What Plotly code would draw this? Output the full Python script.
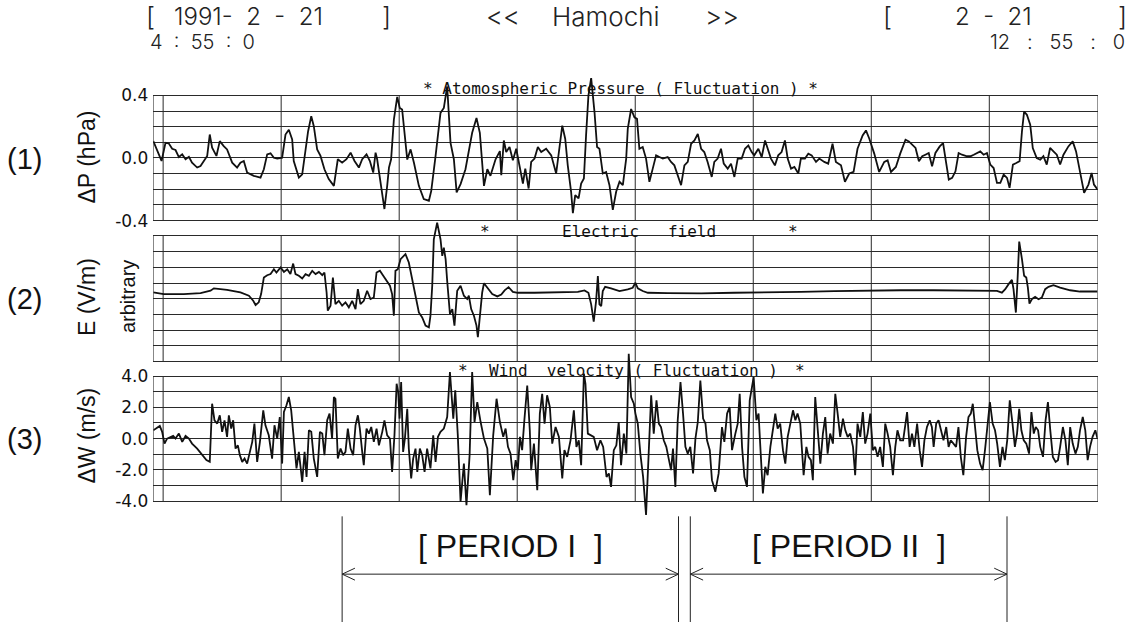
import plotly.graph_objects as go

# ------------------------------------------------------------------
# DATA  (time in minutes after 4:55:00, 1991-02-21, Hamochi)
# ------------------------------------------------------------------
# (1) Atmospheric pressure fluctuation dP (hPa)
P_t = [0, 4.2, 6.2, 7.9, 9.6, 11.3, 13.0, 14.7, 16.4, 18.1,
       19.7, 22.3, 24.0, 25.7, 27.4, 28.7, 29.9, 32.1, 33.8, 35.8,
       37.5, 40.1, 42.6, 44.3, 46.0, 47.7, 51.1, 54.5, 56.2, 57.9,
       59.6, 61.3, 63.0, 65.5, 67.2, 68.9, 70.6, 71.4, 74.0, 75.7,
       77.4, 78.7, 80.3, 81.6, 83.3, 85.0, 87.0, 89.2, 91.8, 93.8,
       96.0, 98.2, 100.3, 102.3, 104.5, 106.2, 108.4, 110.1, 111.8, 113.0,
       113.8, 115.5, 117.5, 118.9, 119.8, 120.9, 122.3, 124.0, 125.3, 126.5,
       127.4, 129.1, 130.8, 132.5, 135.0, 137.5, 140.1, 141.3, 143.5, 146.0,
       147.7, 149.4, 151.1, 152.8, 154.2, 156.2, 158.7, 160.4, 162.1, 164.3,
       166.0, 168.1, 169.8, 171.4, 174.0, 176.2,
       176.9, 178.2, 179.4, 181.1, 182.8, 184.5, 186.2, 187.9, 189.1, 190.8,
       192.1, 193.8, 195.5, 197.2, 199.7, 202.3, 204.8, 206.5, 207.9, 209.4,
       210.7, 212.4, 213.3, 214.5, 216.2, 217.5, 218.9, 220.0, 221.2, 222.6,
       224.3, 225.6, 226.8, 228.5, 230.2, 231.9, 233.6, 235.3, 237.0, 238.7,
       240.4, 241.2, 242.9, 244.6, 245.9, 247.1, 248.8, 250.5, 252.2, 253.9,
       255.6, 257.3, 259.0, 261.5, 263.2, 264.9, 266.6, 268.3, 270.0, 271.7,
       273.4, 275.1, 276.8, 278.5, 280.1, 281.8, 283.9, 285.2, 286.9, 288.6,
       290.0, 292.0, 293.7, 295.4, 297.1, 299.1, 300.8, 302.5, 304.2, 305.5,
       307.6, 309.3, 311.0, 312.3, 314.0, 316.0, 317.7, 319.4, 321.1, 322.5,
       324.2, 325.9, 327.9, 329.2, 331.3, 333.0, 334.7, 336.9, 338.6, 341.1,
       343.1, 345.3, 347.0, 349.6, 351.6, 353.8, 356.0, 358.0, 360.6, 362.3,
       364.0, 366.5, 369.0, 371.6, 373.3, 375.0, 377.5, 379.7,
       382.4, 384.1, 385.8, 387.5, 389.2, 390.9, 392.5, 394.2, 395.9, 397.6,
       399.8, 401.5, 403.2, 404.4, 406.1, 407.8, 409.4, 411.1, 413.7, 415.4,
       417.1, 418.7, 420.4, 422.1, 423.8, 425.5, 427.2, 428.9, 430.6, 432.3,
       434.0, 435.3, 437.0, 438.7, 440.4, 441.6, 442.7, 444.1, 445.8, 447.1,
       449.1, 450.9, 452.5, 454.2, 455.9, 457.6, 459.3, 461.0, 462.7, 465.2,
       467.4, 469.1, 471.1, 473.2, 475.4, 477.0, 478.2, 480.0]
P_v = [0.108, -0.019, 0.097, 0.093, 0.059, 0.051, 0.006, 0.023, -0.008, 0.008,
       -0.03, -0.061, -0.051, -0.019, 0.013, 0.15, 0.066, 0.013, 0.108, 0.076,
       0.055, -0.03, -0.061, -0.03, -0.019, -0.093, -0.114, -0.125, -0.072, 0.023,
       0.03, 0.002, -0.004, 0.002, 0.15, 0.18, 0.118, -0.019, -0.125, -0.104,
       0.034, 0.171, 0.267, 0.203, 0.055, 0.013, -0.072, -0.135, -0.178, -0.008,
       -0.03, -0.008, 0.034, -0.019, -0.061, -0.008, 0.023, -0.019, -0.093, 0.034,
       -0.008, -0.157, -0.326, -0.178, -0.061, -0.008, 0.245, 0.39, 0.32, 0.31,
       0.2, -0.01, 0.055, -0.03, -0.178, -0.262, -0.273, -0.21, 0.013, 0.288,
       0.32, 0.457, 0.097, -0.008, -0.22, -0.167, -0.072, 0.034, 0.161, 0.256,
       0.161, -0.178, -0.072, -0.114, -0.008, 0.044,
       -0.11, 0.112, 0.038, 0.07, -0.015, 0.059, -0.047, -0.163, -0.068, -0.195,
       -0.025, -0.004, 0.07, 0.038, 0.059, 0.017, -0.099, 0.08, 0.207, 0.123,
       -0.047, -0.216, -0.353, -0.237, -0.258, -0.163, -0.131, 0.144, 0.398, 0.51,
       0.292, 0.07, 0.059, -0.099, -0.089, -0.174, -0.332, -0.216, -0.152, -0.174,
       -0.004, 0.186, 0.313, 0.26, 0.25, 0.059, 0.07, -0.004, -0.152, -0.068,
       0.017, 0.006, -0.004, 0.006, -0.025, -0.047, -0.11, -0.174, -0.047, -0.025,
       0.091, 0.112, 0.154, 0.059, 0.038, -0.025, -0.121, -0.025, -0.004, 0.059,
       -0.036, -0.068, -0.036, -0.121, -0.004, -0.004, 0.059, 0.08, 0.038, 0.017,
       0.059, 0.006, 0.112, 0.059, -0.004, -0.047, 0.017, 0.038, 0.112, -0.004,
       -0.068, -0.057, -0.099, -0.004, -0.004, 0.028, 0.017, -0.025, -0.004, -0.025,
       -0.036, 0.091, -0.025, -0.047, -0.152, -0.099, -0.089, 0.059, 0.144, 0.176,
       0.123, 0.028, -0.089, -0.025, -0.015, -0.089, -0.057, 0.028,
       0.117, 0.106, 0.085, 0.064, -0.021, 0.011, 0.021, 0.032, -0.053, 0.032,
       0.074, 0.095, -0.042, -0.138, -0.127, -0.085, 0.032, 0.021, 0.011, 0.011,
       0.021, 0.032, 0.042, 0.021, 0.032, -0.042, -0.064, -0.159, -0.159, -0.106,
       -0.127, -0.191, -0.042, -0.032, -0.021, 0.17, 0.297, 0.276, 0.212, 0.064,
       0.0, -0.011, 0.011, -0.042, 0.064, 0.042, 0.021, -0.042, 0.021, 0.074,
       0.106, 0.042, -0.085, -0.223, -0.17, -0.095, -0.17, -0.201]

# (2) Electric field E (arbitrary units, 8 grid divisions)
E_t = [0, 5.3, 15.5, 24.0, 29.1, 30.8, 37.5, 44.3, 48.6, 50.8,
       52.0, 53.6, 54.8, 56.2, 57.9, 59.6, 61.3, 62.6, 64.7, 66.4,
       68.1, 69.7, 71.1, 72.3, 74.0, 75.7, 77.4, 79.1, 80.8, 82.5,
       84.2, 85.9, 87.0, 88.1, 88.7, 90.1, 91.3, 92.6, 94.3, 96.0,
       97.7, 99.4, 101.1, 102.8, 104.0, 105.3, 107.0, 108.7, 110.4, 112.1,
       113.5, 115.2, 116.9, 118.6, 120.3, 121.4, 122.3, 123.1, 124.3, 125.7,
       127.4, 128.2, 129.9, 131.6, 133.3, 135.0, 136.7, 138.4, 140.1, 140.9,
       141.8, 142.6, 144.3, 146.0, 146.9, 147.7, 148.6, 149.4, 150.8, 152.0,
       153.1, 154.5, 156.2, 157.9, 159.6, 160.4, 161.6, 163.0, 164.3, 165.0,
       166.0, 167.2, 168.1, 169.8, 172.3, 174.9, 176.5,
       176.9, 178.6, 180.6, 182.8, 185.3, 193.8, 202.3, 210.7, 215.8, 219.2,
       221.2, 222.6, 223.9, 225.1, 226.0, 226.8, 227.7, 228.5, 229.7, 232.7,
       237.0, 241.2, 243.7, 245.1, 246.3, 248.8, 251.4, 261.5, 278.5, 295.4,
       312.3, 329.2, 346.2, 363.1,
       379.9, 396.8, 413.7, 423.8, 428.9, 431.4, 433.1, 434.8, 436.5, 437.3,
       438.5, 439.4, 440.2, 441.6, 442.7, 443.8, 444.6, 445.4, 446.6, 448.3,
       450.0, 451.7, 453.4, 455.1, 457.6, 461.0, 466.1, 471.1, 480.0]
E_v = [4.40, 4.30, 4.30, 4.36, 4.51, 4.66, 4.57, 4.40, 4.19, 3.87,
       3.60, 3.77, 4.30, 5.35, 5.50, 5.57, 5.88, 5.67, 5.99, 5.71,
       5.88, 5.57, 6.24, 5.57, 5.46, 5.29, 5.57, 5.46, 5.78, 5.57,
       5.71, 5.50, 5.67, 4.40, 3.24, 3.56, 5.35, 3.66, 3.87, 3.56,
       3.77, 3.45, 3.87, 3.34, 4.61, 3.66, 3.87, 4.51, 3.98, 4.08,
       5.67, 5.78, 5.46, 5.14, 4.83, 4.30, 2.92, 5.78, 5.88, 6.52,
       6.73, 6.84, 6.31, 5.14, 4.19, 3.13, 2.81, 2.29, 2.18, 2.92,
       4.83, 7.79, 8.85, 7.79, 6.73, 7.26, 6.52, 5.14, 3.03, 3.34,
       2.29, 4.51, 4.83, 4.19, 3.98, 4.19, 3.34, 2.92, 2.29, 1.55,
       2.71, 4.40, 4.99, 4.72, 4.30, 4.15, 4.23,
       4.27, 4.53, 4.74, 4.44, 4.38, 4.38, 4.42, 4.42, 4.44, 4.53,
       4.38, 3.64, 2.54, 3.85, 5.44, 3.64, 3.53, 4.49, 4.76, 4.66,
       4.49, 4.59, 4.70, 5.02, 4.66, 4.49, 4.38, 4.36, 4.34, 4.38,
       4.40, 4.44, 4.49, 4.53,
       4.54, 4.54, 4.54, 4.54, 4.50, 4.39, 4.61, 4.93, 5.20, 4.61,
       3.12, 5.35, 7.64, 6.52, 5.46, 5.35, 4.71, 3.69, 3.97, 4.12,
       3.97, 4.08, 4.61, 4.76, 4.86, 4.71, 4.54, 4.46, 4.46]

# (3) Wind velocity fluctuation dW (m/s)
W_t = [0, 1.9, 3.3, 4.5, 5.7, 7.0, 8.7, 10.1, 11.3, 13.0,
       14.7, 16.4, 18.1, 19.7, 22.3, 24.8, 27.0, 28.7, 29.9, 31.1,
       32.5, 33.8, 35.0, 36.2, 37.5, 38.4, 39.6, 40.6, 41.8, 43.0,
       44.0, 45.2, 46.4, 47.7, 49.1, 50.3, 51.4, 52.8, 54.2, 55.9,
       57.0, 58.7, 60.4, 61.6, 63.0, 64.3, 65.5, 66.4, 67.7, 68.9,
       70.1, 71.4, 72.8, 74.0, 75.7, 76.9, 77.9, 79.1, 80.3, 81.6,
       83.3, 84.7, 85.9, 87.0, 88.4, 89.6, 90.9, 91.8, 92.6, 93.8,
       95.2, 96.5, 97.7, 98.9, 100.3, 101.6, 102.8, 104.0, 105.0, 106.2,
       107.0, 108.4, 109.6, 110.8, 112.1, 113.5, 114.7, 116.4, 117.5, 118.9,
       120.3, 121.4, 122.6, 123.7, 124.5, 125.2, 126.0, 127.0, 127.9, 129.1,
       129.9, 131.1, 132.1, 133.3, 134.2, 135.5, 136.7, 137.9, 139.2, 140.9,
       142.3, 143.5, 144.7, 146.0, 147.7, 149.4, 150.8, 152.5, 153.5, 154.8,
       156.2, 157.9, 159.2, 160.8, 162.1, 163.3, 164.7, 166.4, 168.1, 169.8,
       171.1, 172.8, 174.5, 176.2,
       177.9, 179.1, 180.3, 181.6, 183.0, 184.2, 185.3, 186.4, 187.5, 188.7,
       190.1, 191.4, 192.1, 193.5, 195.2, 196.5, 197.7, 198.9, 200.2, 201.6,
       202.8, 204.5, 206.2, 207.9, 209.0, 210.4, 212.1, 213.8, 215.1, 216.3,
       217.5, 218.9, 219.7, 220.9, 222.2, 223.9, 225.6, 227.3, 228.7, 230.4,
       231.6, 232.7, 234.1, 235.4, 236.6, 237.8, 239.2, 240.5, 241.7, 242.9,
       244.3, 245.1, 246.3, 247.6, 249.0, 250.5, 251.9, 253.1, 254.4, 255.8,
       257.0, 258.1, 259.5, 260.8, 262.0, 263.2, 264.2, 265.4, 266.6, 268.0,
       269.3, 270.5, 271.7, 273.0, 274.4, 275.6, 276.8, 278.1, 279.5, 280.7,
       281.5, 282.9, 284.0, 285.7, 287.4, 289.1, 290.3, 291.7, 293.0, 294.2,
       295.9, 297.1, 298.1, 299.3, 300.5, 301.8, 303.2, 304.4, 305.2, 306.6,
       307.7, 308.6, 309.9, 311.1, 312.3, 313.7, 315.0, 316.2, 317.4, 318.7,
       320.1, 321.3, 322.5, 323.8, 325.2, 326.4, 327.5, 328.9, 330.6, 332.0,
       333.1, 334.3, 335.3, 336.5, 337.7, 339.1, 340.4, 341.6, 342.8, 344.1,
       345.5, 346.7, 347.9, 349.2, 350.6, 351.8, 353.0, 354.3, 355.7, 356.8,
       358.0, 359.4, 360.7, 361.9, 363.1, 364.5, 365.8, 367.0, 368.2, 369.5,
       370.9, 372.1, 373.3, 374.6, 376.0, 377.2, 378.3, 379.7,
       381.2, 382.4, 383.2, 384.5, 385.7, 386.9, 388.3, 389.6, 390.8, 392.0,
       393.3, 394.7, 395.8, 396.7, 398.0, 399.2, 400.4, 401.7, 403.1, 404.3,
       405.4, 406.8, 408.1, 409.3, 410.5, 411.8, 413.2, 414.4, 415.6, 416.6,
       417.7, 418.9, 420.3, 421.6, 422.8, 424.0, 425.3, 426.7, 427.9, 429.0,
       430.4, 431.7, 432.9, 434.1, 435.4, 436.8, 438.0, 439.1, 440.2, 441.3,
       442.5, 443.8, 445.2, 446.4, 447.6, 448.6, 449.8, 450.9, 452.3, 453.6,
       454.8, 456.0, 457.3, 458.7, 459.9, 461.0, 462.4, 463.7, 464.9, 466.1,
       467.4, 468.8, 470.0, 471.1, 472.5, 473.8, 475.0, 476.2, 477.5, 478.9,
       480.0]
W_v = [0.53, 0.68, 0.81, 0.43, -0.32, 0, 0.11, 0.17, 0, 0.32,
       -0.21, 0.17, 0, -0.32, -0.64, -1.02, -1.38, -1.49, 2.23, 1.17,
       0.96, 1.49, 0.43, 1.17, 0.11, 1.49, 0.64, 1.17, -0.64, -0.43,
       -1.06, -1.49, -1.28, -1.6, -0.85, -0.21, 0.96, -1.49, -0.21, 1.81,
       0.85, 0.21, -1.28, 0.85, 0, 1.38, -1.6, 1.7, 2.13, 2.66,
       1.81, 0.21, -1.91, -0.85, -2.77, -0.85, -2.45, 0.53, 0.43, -1.28,
       -2.45, 0.43, 0.32, -1.06, 1.17, 1.6, 0, 2.66, 2.55, -1.28,
       -0.64, -1.06, -0.85, 0.64, -0.64, -1.06, 0.85, 1.49, 0.64, -0.85,
       -1.7, 0.64, 0.32, 0.74, -0.21, 0.64, -0.43, 0.43, 1.17, 0.21,
       0, -2.13, 0.21, 3.51, 2.98, 1.28, 3.62, -0.85, 0, 1.91,
       -0.64, -2.55, -1.28, -0.64, -2.13, -0.64, -1.06, -2.13, -0.64, -1.91,
       0.21, -1.49, 0.11, 0.43, 0.64, 1.38, 4.26, 1.28, 3.09, 0.21,
       -4.04, -1.6, -4.26, -1.06, 4.26, 1.06, 2.34, 1.06, 0, -0.64,
       -3.62, 0.21, 2.55, 1.06,
       0.11, 0.64, -0.53, -0.96, -2.66, -1.38, -2.02, 0.11, -0.74, 1.28,
       3.4, 0.53, -2.02, -0.32, -3.3, 1.6, 2.87, 0.96, 2.77, 2.02,
       -0.32, 0.74, 0.11, -2.55, -0.74, -1.17, -0.11, 1.81, -0.53, -0.11,
       -1.7, 4.15, 3.51, 0.32, 0.21, 0.11, -0.74, -0.11, -0.53, -2.45,
       -2.23, -3.09, -0.74, -0.43, 1.06, -1.7, 0.32, -0.96, 5.43, 2.66,
       2.23, 1.6, 0.96, -0.96, -2.45, -4.89, -0.74, 2.77, 0.32, 2.45,
       0.96, 0.74, -0.11, -0.53, -1.28, -2.02, -0.64, -3.09, 1.17, 3.62,
       1.6, -0.53, -0.96, -0.53, -2.23, 0, 1.06, 3.72, 1.28, 0.96,
       -0.11, -0.74, -2.66, -3.4, -2.23, 0.74, -0.21, 1.6, 2.02, -0.74,
       0.32, 0.96, 2.87, -0.53, -2.45, -3.09, 2.45, 3.3, 3.94, 1.17,
       1.6, -0.53, -3.51, -1.81, -2.34, -0.53, 0.53, 1.6, 0.64, 0.96,
       -0.74, -1.6, 0.11, 0.96, 1.81, 1.17, 1.6, 0.96, -2.34, -0.53,
       -1.17, -1.38, -2.66, 2.66, 0.53, -1.6, 0.32, 1.38, -0.96, 0.32,
       -0.32, 2.87, 1.6, 0.11, 1.28, 0.53, 0.11, 0.32, -0.53, -2.34,
       0.96, 0.11, 1.7, -0.32, 0.32, 1.6, -0.74, -0.53, -1.17, -0.53,
       -1.81, 0.96, 0.32, -0.53, -2.34, -0.53, 0.53, -0.11,
       -0.11, 1.06, 1.7, -0.53, 0.32, -0.53, 0.96, -0.74, -1.81, -0.11,
       0.74, 1.17, 0.74, -0.53, 0.96, 1.17, 0.53, -0.11, 0.74, -0.53,
       -0.11, -0.32, -0.53, 0.74, -1.17, -2.34, 0.11, 1.38, 1.6, 2.23,
       0.74, -0.74, -1.6, -2.02, -0.74, 0.74, 2.34, 0.96, 0.53, -0.32,
       -1.81, -0.53, -1.38, -0.11, 2.45, 0.96, -0.53, 0.32, 1.91, 0.53,
       -0.11, -0.32, -0.96, 1.7, 0.32, 0.74, 0.53, -0.53, -1.17, 1.17,
       2.34, 0.53, -1.17, -1.49, -1.38, -0.53, 0.74, -0.11, -1.7, 0.74,
       -0.32, -0.96, -0.53, 0.53, 1.38, 0.53, -1.38, -0.53, 0.11, 0.53,
       0.0]

# hourly grid marks (5:00 ... 12:00) and record end, minutes after 4:55
HOUR_MARKS = [5, 65, 125, 185, 245, 305, 365, 425]
T_END = 480

P_GRID = [-0.4, -0.3, -0.2, -0.1, 0.0, 0.1, 0.2, 0.3, 0.4]
P_LABELS = ["-0.4", "", "", "", "0.0", "", "", "", "0.4"]
E_GRID = [0, 1, 2, 3, 4, 5, 6, 7, 8]
W_GRID = [-4, -3, -2, -1, 0, 1, 2, 3, 4]
W_LABELS = ["-4.0", "", "-2.0", "", "0.0", "", "2.0", "", "4.0"]

PERIODS = [(96, 267, "[ PERIOD I  ]"), (273, 434, "[ PERIOD II  ]")]

# ------------------------------------------------------------------
# LAYOUT GEOMETRY (pixels of the 1135x624 page)
# ------------------------------------------------------------------
WPX, HPX = 1135, 624
FL, FR = 153.3, 1097.5


def px(x):
    return x / WPX


def py(y):
    return 1 - y / HPX


def domain(top, bot, vmin, vmax, rmin, rmax):
    s = (bot - top) / (vmax - vmin)
    ytop = bot - (rmax - vmin) * s
    ybot = bot - (rmin - vmin) * s
    return [py(ybot), py(ytop)]


panels = [
    dict(top=95.7, bot=221.3, vmin=-0.4, vmax=0.4, rmin=-0.45, rmax=0.55),
    dict(top=236.7, bot=362.7, vmin=0, vmax=8, rmin=-0.5, rmax=9.5),
    dict(top=377.3, bot=502.7, vmin=-4, vmax=4, rmin=-5.6, rmax=5.8),
]

LINE = dict(color="#111111", width=1.8)
GRID = "#2a2a2a"
MONO = "DejaVu Sans Mono"
SANS = "Liberation Sans"
THIN = "Inter"

fig = go.Figure()
fig.add_trace(go.Scatter(x=P_t, y=P_v, mode="lines", line=LINE, xaxis="x", yaxis="y",
                         showlegend=False, hoverinfo="skip"))
fig.add_trace(go.Scatter(x=E_t, y=E_v, mode="lines", line=LINE, xaxis="x2", yaxis="y2",
                         showlegend=False, hoverinfo="skip"))
fig.add_trace(go.Scatter(x=W_t, y=W_v, mode="lines", line=LINE, xaxis="x3", yaxis="y3",
                         showlegend=False, hoverinfo="skip"))

xdom = [px(FL), px(FR)]
xcommon = dict(domain=xdom, range=[0, T_END], showgrid=False, zeroline=False,
               showticklabels=False, showline=False, ticks="", fixedrange=True)

tick_font = dict(family="DejaVu Sans", size=17, color="#111")
ycommon = dict(showgrid=True, gridcolor=GRID, gridwidth=1, zeroline=False,
               showline=False, ticks="", tickfont=tick_font, fixedrange=True,
               ticklabelstandoff=4)

layout = dict(
    width=WPX, height=HPX,
    margin=dict(l=0, r=0, t=0, b=0),
    paper_bgcolor="white", plot_bgcolor="rgba(0,0,0,0)",
    showlegend=False,
    xaxis=dict(**xcommon, anchor="y"),
    xaxis2=dict(**xcommon, anchor="y2"),
    xaxis3=dict(**xcommon, anchor="y3"),
    yaxis=dict(**ycommon, anchor="x",
               domain=domain(**panels[0]), range=[panels[0]["rmin"], panels[0]["rmax"]],
               tickvals=P_GRID, ticktext=P_LABELS),
    yaxis2=dict(**ycommon, anchor="x2",
                domain=domain(**panels[1]), range=[panels[1]["rmin"], panels[1]["rmax"]],
                tickvals=E_GRID, ticktext=[""] * len(E_GRID)),
    yaxis3=dict(**ycommon, anchor="x3",
                domain=domain(**panels[2]), range=[panels[2]["rmin"], panels[2]["rmax"]],
                tickvals=W_GRID, ticktext=W_LABELS),
)
fig.update_layout(**layout)

# vertical hour lines + frame sides
shapes = []
for (xr, yr, p) in [("x", "y", panels[0]), ("x2", "y2", panels[1]), ("x3", "y3", panels[2])]:
    for t in [0] + HOUR_MARKS + [T_END]:
        shapes.append(dict(type="line", xref=xr, yref=yr, x0=t, x1=t,
                           y0=p["vmin"], y1=p["vmax"], layer="below",
                           line=dict(color=GRID, width=1)))

# period markers below the chart
arrow_y = py(576)
for (a, b, label) in PERIODS:
    for t in (a, b):
        shapes.append(dict(type="line", xref="x3", yref="paper", x0=t, x1=t,
                           y0=py(518), y1=py(624), line=dict(color="#222", width=1)))
    shapes.append(dict(type="line", xref="x3", yref="paper", x0=a, x1=b,
                       y0=arrow_y, y1=arrow_y, line=dict(color="#222", width=1)))
    dx, dy = 6.5, 6 / HPX
    shapes.append(dict(type="path", xref="x3", yref="paper",
                       path=f"M {a+dx},{arrow_y+dy} L {a},{arrow_y} L {a+dx},{arrow_y-dy}",
                       line=dict(color="#222", width=1)))
    shapes.append(dict(type="path", xref="x3", yref="paper",
                       path=f"M {b-dx},{arrow_y+dy} L {b},{arrow_y} L {b-dx},{arrow_y-dy}",
                       line=dict(color="#222", width=1)))
fig.update_layout(shapes=shapes)

ann = []


def text(t, x, y, size, family=MONO, xanchor="center", angle=0, color="#222", weight=None):
    f = dict(family=family, size=size, color=color)
    if weight is not None:
        f["weight"] = weight
    ann.append(dict(text=t, x=px(x), y=py(y), xref="paper", yref="paper",
                    xanchor=xanchor, yanchor="middle", showarrow=False, textangle=angle,
                    font=f))


# header (thin plotter lettering)
HW = 300
text("[", 150, 17, 26, family=THIN, weight=HW)
text("1991-  2  -  21", 172, 17, 24, family=THIN, xanchor="left", weight=HW)
text("]", 386, 17, 26, family=THIN, weight=HW)
text("<<", 503, 17, 26, family=THIN, weight=HW)
text("Hamochi", 606, 17, 26, family=THIN, weight=HW)
text(">>", 722, 17, 26, family=THIN, weight=HW)
text("[", 887, 17, 26, family=THIN, weight=HW)
text("2  -  21", 993, 17, 24, family=THIN, weight=HW)
text("]", 1122, 17, 26, family=THIN, weight=HW)
text("4  :  55  :  0", 148, 42, 20, family=THIN, xanchor="left", weight=HW)
text("12   :   55   :   0", 1127, 42, 20, family=THIN, xanchor="right", weight=HW)

# panel titles
text("* Atomospheric Pressure ( Fluctuation ) *", 421, 89, 16, xanchor="left", color="#111")
text("*", 485, 232, 16, color="#111")
text("Electric   field", 560, 232, 16, xanchor="left", color="#111")
text("*", 793, 232, 16, color="#111")
text("*", 463, 372, 16, color="#111")
text("Wind  velocity ( Fluctuation )", 487, 372, 16, xanchor="left", color="#111")
text("*", 800, 372, 16, color="#111")

# left labels
text("(1)", 24, 160, 29, family=SANS, color="#111")
text("(2)", 24, 300, 29, family=SANS, color="#111")
text("(3)", 24, 440, 29, family=SANS, color="#111")
text("ΔP (hPa)", 87, 158, 23, family=SANS, angle=-90, color="#111")
text("E (V/m)", 87, 298, 23, family=SANS, angle=-90, color="#111")
text("arbitrary", 128, 298, 20, family=SANS, angle=-90, color="#111")
text("ΔW (m/s)", 87, 437, 23, family=SANS, angle=-90, color="#111")

# period labels
for (a, b, label) in PERIODS:
    ann.append(dict(text=label, x=(a + b) / 2, y=py(548), xref="x3", yref="paper",
                    xanchor="center", yanchor="middle", showarrow=False,
                    font=dict(family=SANS, size=32, color="#111")))

fig.update_layout(annotations=ann)
fig.write_html("out.html")
